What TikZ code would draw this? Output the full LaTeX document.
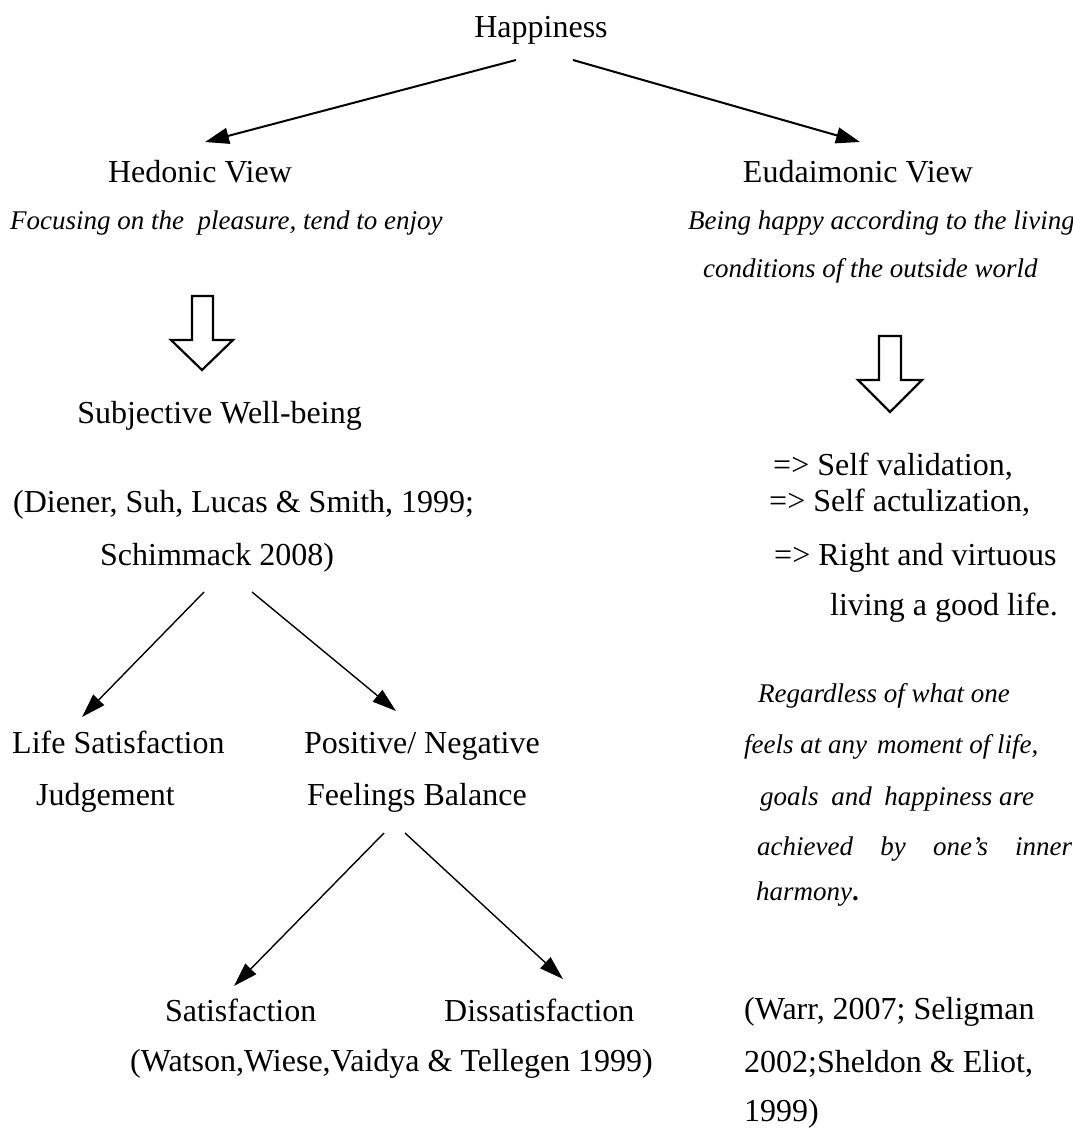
\documentclass[tikz,border=0pt]{standalone}
\usepackage{fontspec}
\setmainfont{Liberation Serif}
\usetikzlibrary{arrows.meta}
\begin{document}
\begin{tikzpicture}[x=1pt,y=-1pt,
  txt/.style={inner sep=0pt,anchor=base west,font=\fontsize{32}{38}\selectfont},
  ctxt/.style={inner sep=0pt,anchor=base,font=\fontsize{32}{38}\selectfont},
  itxt/.style={inner sep=0pt,anchor=base west,font=\fontsize{27}{32}\selectfont\itshape},
  bigarrow/.style={line width=2pt,-{Triangle[length=24pt,width=16pt]}},
  arrowline/.style={line width=1.4pt,-{Triangle[length=24pt,width=15pt]}},
  blockarrow/.style={draw,line width=2.2pt,fill=white,line join=miter}]
\useasboundingbox (0,0) rectangle (1073,1128);
% top
\node[ctxt] (happy) at (541,37) {Happiness};
\node[ctxt] (hed) at (200,182) {Hedonic View};
\node[ctxt] (eud) at (858,182) {Eudaimonic View};
\node[itxt] (hedD) at (10,229) {Focusing on the \ pleasure, tend to enjoy};
\node[itxt] (eudD1) at (688,229) {Being happy according to the living};
\node[itxt] (eudD2) at (703,277) {conditions of the outside world};
\coordinate (happyL) at (516,60);
\coordinate (happyR) at (573,60);
\coordinate (hedT) at (205,142);
\coordinate (eudT) at (860,142);
\draw[bigarrow] (happyL) -- (hedT);
\draw[bigarrow] (happyR) -- (eudT);
% block arrows
\draw[blockarrow] (192,296) -- (213,296) -- (213,340) -- (233,340) -- (202,370) -- (171,340) -- (192,340) -- cycle;
\draw[blockarrow] (879,336) -- (901,336) -- (901,380) -- (922,380) -- (890,412) -- (858,380) -- (879,380) -- cycle;
% left middle
\node[ctxt] (swb) at (219.5,423) {Subjective Well-being};
\node[txt] (dien1) at (13,512) {(Diener, Suh, Lucas \& Smith, 1999;};
\node[txt] (dien2) at (100,565) {Schimmack 2008)};
% right middle
\node[txt] (sv1) at (773,475) {=> Self validation,};
\node[txt] (sv2) at (769,511) {=> Self actulization,};
\node[txt] (sv3) at (774,565) {=> Right and virtuous};
\node[txt] (sv4) at (830,615) {living a good life.};
\node[itxt] (r1) at (758,702) {Regardless of what one};
\node[itxt] (r2) at (744,753) {\hbox to 299pt{feels at any\hspace{10pt}moment of life,\hfil}};
\node[itxt] (r3) at (760,805) {\hbox to 274pt{goals\hfill and\hfill happiness are}};
\node[itxt] (r4) at (757,855) {\hbox to 315pt{achieved\hfill by\hfill one’s\hfill inner}};
\node[itxt] (r5) at (756,900) {harmony\textbf{\upshape .}};
% second level
\coordinate (swbL) at (204,592);
\coordinate (swbR) at (252,592);
\node[txt] (life1) at (12,753) {Life Satisfaction};
\node[txt] (life2) at (36,805) {Judgement};
\node[txt] (pos1) at (304,753) {Positive/ Negative};
\node[txt] (pos2) at (307,805) {Feelings Balance};
\coordinate (lifeT) at (82,717);
\coordinate (posT) at (396,711);
\draw[arrowline] (swbL) -- (lifeT);
\draw[arrowline] (swbR) -- (posT);
% third level
\coordinate (posL) at (384,833);
\coordinate (posR) at (405,833);
\node[txt] (sat) at (165,1021) {Satisfaction};
\node[txt] (dis) at (444,1021) {Dissatisfaction};
\node[txt] (wat) at (130,1071) {(Watson,Wiese,Vaidya \& Tellegen 1999)};
\coordinate (satT) at (234,986);
\coordinate (disT) at (563,979);
\draw[arrowline] (posL) -- (satT);
\draw[arrowline] (posR) -- (disT);
% references right
\node[txt] (warr1) at (744,1019) {(Warr, 2007; Seligman};
\node[txt] (warr2) at (744,1072) {2002;Sheldon \& Eliot,};
\node[txt] (warr3) at (744,1121) {1999)};
\end{tikzpicture}
\end{document}
